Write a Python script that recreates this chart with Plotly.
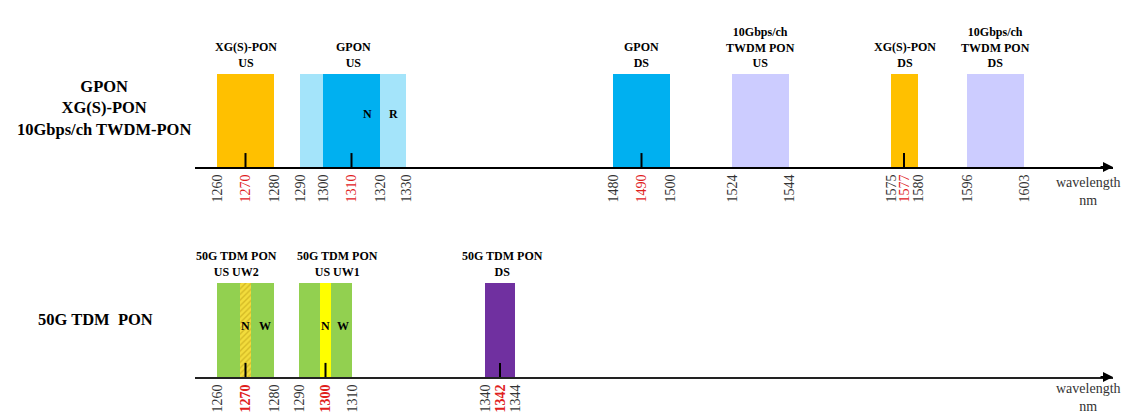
import numpy as np
import plotly.graph_objects as go

# ---------------- data ----------------
# Top row: GPON / XG(S)-PON / 10Gbps/ch TWDM-PON wavelength plan (nm)
top_band_start = [1260, 1290, 1300, 1480, 1524, 1575, 1596]
top_band_end = [1280, 1330, 1320, 1500, 1544, 1580, 1603]
top_band_color = ["#FFC000", "#A4E4FA", "#00B0F0", "#00B0F0", "#CCCCFF", "#FFC000", "#CCCCFF"]

top_group_start = [1260, 1290, 1480, 1524, 1575, 1596]
top_group_end = [1280, 1330, 1500, 1544, 1580, 1603]
top_group_label = ["XG(S)-PON<br>US", "GPON<br>US", "GPON<br>DS",
                   "10Gbps/ch<br>TWDM PON<br>US", "XG(S)-PON<br>DS",
                   "10Gbps/ch<br>TWDM PON<br>DS"]

top_ticks = [1260, 1270, 1280, 1290, 1300, 1310, 1320, 1330,
             1480, 1490, 1500, 1524, 1544, 1575, 1577, 1580, 1596, 1603]
top_centers = [1270, 1310, 1490, 1577]

# Bottom row: 50G TDM PON wavelength plan (nm)
bot_band_start = [1260, 1268, 1290, 1298, 1340]
bot_band_end = [1280, 1272, 1310, 1302, 1344]
bot_band_color = ["#92D050", "#F2DC3C", "#92D050", "#FFFF00", "#7030A0"]
bot_band_hatch = ["", "/", "", "", ""]

bot_group_start = [1260, 1290, 1340]
bot_group_end = [1280, 1310, 1344]
bot_group_label = ["50G TDM PON<br>US UW2", "50G TDM PON<br>US UW1", "50G TDM PON<br>DS"]
bot_group_shift = [-9, 12, 2]

bot_ticks = [1260, 1270, 1280, 1290, 1300, 1310, 1340, 1342, 1344]
bot_centers = [1270, 1300, 1342]

# ---------------- broken wavelength scale ----------------
# The wavelength axis is drawn with compressed gaps; each row has its own
# piecewise-linear scale from wavelength to axis units.
top_scale_wl = [1260, 1280, 1290, 1300, 1320, 1330, 1480, 1500, 1524, 1544,
                1575, 1577, 1580, 1596, 1603]
top_scale_u = [217, 274, 300, 323, 380, 406, 613, 670, 732, 789,
               891, 904, 918, 967, 1024]
bot_scale_wl = [1260, 1280, 1290, 1310, 1340, 1344]
bot_scale_u = [217, 274, 299, 352, 485, 515]


def top_pos(wl):
    return np.interp(wl, top_scale_wl, top_scale_u)


def bot_pos(wl):
    return np.interp(wl, bot_scale_wl, bot_scale_u)


W, H = 1137, 416
SERIF = "'Liberation Serif', 'Times New Roman', 'DejaVu Serif', serif"
RED = "#E0201C"
AX_LO, AX_HI = 195, 1113

fig = go.Figure()


def add_bands(starts, ends, colors, pos, xa, ya, hatches=None):
    for i, (s, e, c) in enumerate(zip(starts, ends, colors)):
        l, r = pos(s), pos(e)
        marker = dict(color=c, line=dict(width=0))
        if hatches and hatches[i]:
            marker["pattern"] = dict(shape=hatches[i], fgcolor="#B89A10",
                                     bgcolor=c, size=4, solidity=0.35)
        fig.add_trace(go.Bar(x=[(l + r) / 2], y=[1], base=0, width=[r - l],
                             marker=marker, xaxis=xa, yaxis=ya,
                             showlegend=False, hoverinfo="skip"))


def add_center_marks(centers, pos, xa, ya):
    xs, ys = [], []
    for c in centers:
        p = float(pos(c))
        xs += [p, p, None]
        ys += [0, 0.15, None]
    fig.add_trace(go.Scatter(x=xs, y=ys, mode="lines",
                             line=dict(color="black", width=2),
                             xaxis=xa, yaxis=ya, showlegend=False,
                             hoverinfo="skip"))


add_bands(top_band_start, top_band_end, top_band_color, top_pos, "x", "y")
add_center_marks(top_centers, top_pos, "x", "y")
add_bands(bot_band_start, bot_band_end, bot_band_color, bot_pos, "x2", "y2",
          bot_band_hatch)
add_center_marks(bot_centers, bot_pos, "x2", "y2")


def tick_text(ticks, red, bold_red=False):
    out = []
    for t in ticks:
        if t in red:
            s = f"<span style='color:{RED}'>{t}</span>"
            out.append(f"<b>{s}</b>" if bold_red else s)
        else:
            out.append(str(t))
    return out


xcommon = dict(range=[AX_LO, AX_HI], domain=[AX_LO / W, AX_HI / W],
               showgrid=False, zeroline=False, showline=True,
               linecolor="black", linewidth=2, ticks="", tickangle=-90,
               tickfont=dict(family=SERIF, size=14, color="#333333"),
               fixedrange=True)

top_axis_y, top_bar_top = 167, 74
bot_axis_y, bot_bar_top = 377, 283

fig.update_layout(
    width=W, height=H, margin=dict(l=0, r=0, t=0, b=0),
    paper_bgcolor="white", plot_bgcolor="rgba(0,0,0,0)",
    barmode="overlay", bargap=0,
    xaxis=dict(xcommon, anchor="y", tickmode="array",
               tickvals=list(top_pos(top_ticks)),
               ticktext=tick_text(top_ticks, top_centers)),
    yaxis=dict(domain=[1 - top_axis_y / H, 1 - top_bar_top / H], range=[0, 1],
               visible=False, fixedrange=True),
    xaxis2=dict(xcommon, anchor="y2", tickmode="array",
                tickvals=list(bot_pos(bot_ticks)),
                ticktext=tick_text(bot_ticks, bot_centers, bold_red=True),
                linecolor="#222222"),
    yaxis2=dict(domain=[1 - bot_axis_y / H, 1 - bot_bar_top / H], range=[0, 1],
                visible=False, fixedrange=True),
)

ann = []
bold12 = dict(family=SERIF, size=12, color="black")

# group labels above the bands
for s, e, t in zip(top_group_start, top_group_end, top_group_label):
    ann.append(dict(x=float((top_pos(s) + top_pos(e)) / 2), y=1, xref="x", yref="y",
                    text=f"<b>{t}</b>", showarrow=False, yanchor="bottom",
                    xanchor="center", yshift=2, font=bold12))
for s, e, t, sh in zip(bot_group_start, bot_group_end, bot_group_label, bot_group_shift):
    ann.append(dict(x=float((bot_pos(s) + bot_pos(e)) / 2), y=1, xref="x2", yref="y2",
                    text=f"<b>{t}</b>", showarrow=False, yanchor="bottom",
                    xanchor="center", yshift=2, xshift=sh, font=bold12))

# narrow / reduced / wide band letters
ann.append(dict(x=float(top_pos(1320)), y=0.57, xref="x", yref="y", text="<b>N</b>",
                showarrow=False, xanchor="right", xshift=-6, font=bold12))
ann.append(dict(x=float((top_pos(1320) + top_pos(1330)) / 2), y=0.57, xref="x", yref="y",
                text="<b>R</b>", showarrow=False, xanchor="center", font=bold12))
for ns, ne, we in [(1268, 1272, 1280), (1298, 1302, 1310)]:
    ann.append(dict(x=float((bot_pos(ns) + bot_pos(ne)) / 2), y=0.54, xref="x2", yref="y2",
                    text="<b>N</b>", showarrow=False, xanchor="center", font=bold12))
    ann.append(dict(x=float((bot_pos(ne) + bot_pos(we)) / 2 + 2), y=0.54, xref="x2", yref="y2",
                    text="<b>W</b>", showarrow=False, xanchor="center", font=bold12))

# row titles
ann.append(dict(x=104 / W, y=1 - 108 / H, xref="paper", yref="paper",
                xanchor="center", yanchor="middle",
                text="<b>GPON<br>XG(S)-PON<br>10Gbps/ch TWDM-PON</b>",
                showarrow=False, font=dict(family=SERIF, size=16.5, color="black")))
ann.append(dict(x=95 / W, y=1 - 319 / H, xref="paper", yref="paper",
                xanchor="center", yanchor="middle",
                text="<b>50G TDM  PON</b>",
                showarrow=False, font=dict(family=SERIF, size=16.5, color="black")))

# axis arrows and unit labels
for xa, ya, yc in [("x", "y", 191.5), ("x2", "y2", 397)]:
    ann.append(dict(x=AX_HI, y=0, xref=xa, yref=ya, ax=-14, ay=0, text="",
                    showarrow=True, arrowhead=2, arrowsize=1, arrowwidth=2,
                    arrowcolor="black"))
    ann.append(dict(x=1088 / W, y=1 - yc / H, xref="paper", yref="paper",
                    xanchor="center", yanchor="middle",
                    text="wavelength<br>nm", showarrow=False,
                    font=dict(family=SERIF, size=14, color="#333333")))

fig.update_layout(annotations=ann)
fig.write_html("out.html")
